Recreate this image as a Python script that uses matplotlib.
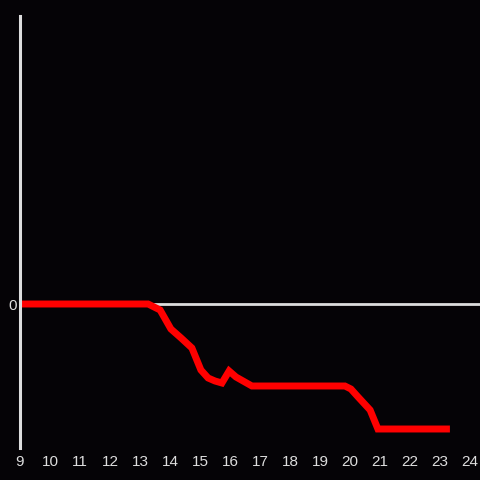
import matplotlib
matplotlib.use('Agg')
import matplotlib.pyplot as plt

# hour of day vs. cumulative value
hours = [9.0, 13.27, 13.67, 14.03, 14.37, 14.73, 15.03, 15.27, 15.5, 15.73,
         15.97, 16.2, 16.73, 19.83, 20.03, 20.27, 20.67, 20.93, 23.33]
values = [0, 0, -6, -25, -34, -44, -66, -74, -77, -79,
          -67, -73, -82, -82, -85, -93, -106, -125, -125]
xticks = list(range(9, 25))

bg = '#050306'
fg = '#dddddd'

plt.rcParams['font.family'] = ['Liberation Sans', 'DejaVu Sans']

fig = plt.figure(figsize=(4.8, 4.8), dpi=100, facecolor=bg)
ax = fig.add_axes([20/480, 32/480, 460/480, 432/480], facecolor=bg)

ax.axhline(0, color=fg, lw=2, zorder=1)
ax.plot(hours, values, color='#ff0000', lw=5, solid_joinstyle='miter',
        solid_capstyle='butt', zorder=2)

ax.set_xlim(9, 24.333)
ax.set_ylim(-144, 288)
ax.set_xticks(xticks)
ax.set_yticks([0])
ax.tick_params(length=0, colors=fg, labelsize=11, pad=5)
ax.tick_params(axis='y', pad=2)

for s in ['top', 'right', 'bottom']:
    ax.spines[s].set_visible(False)
ax.spines['left'].set_color(fg)
ax.spines['left'].set_linewidth(2.2)

fig.savefig('out.png', dpi=100, facecolor=bg)
